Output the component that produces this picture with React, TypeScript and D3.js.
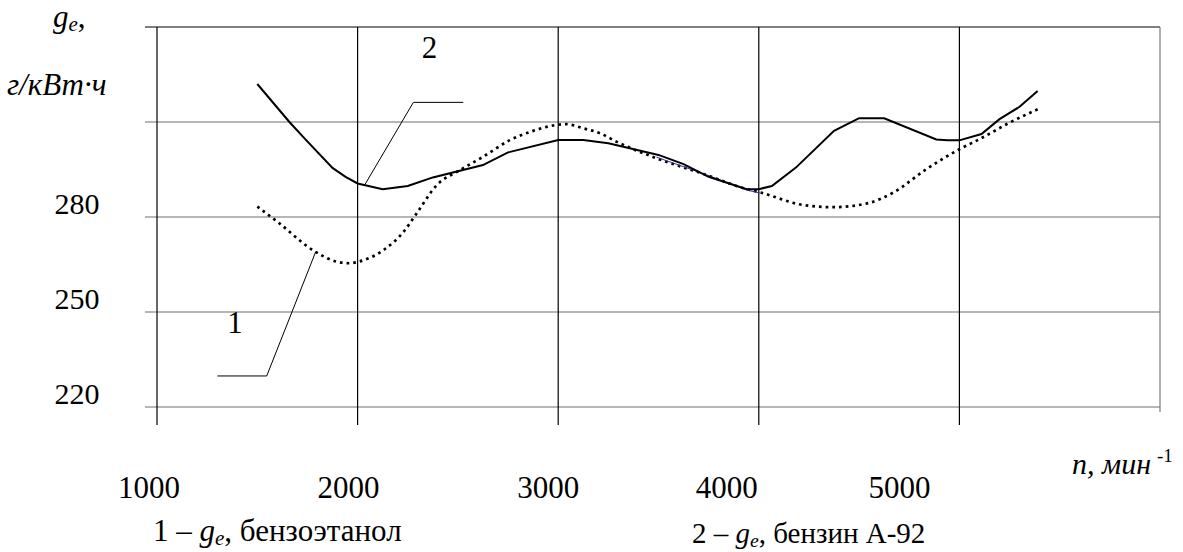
import React from 'react';
import * as d3 from 'd3';

// частота вращения, мин^-1 / удельный расход g_e, г/кВт·ч
const petrolRpm = [1500, 1660, 1740, 1875, 1940, 2000, 2125, 2250, 2375, 2625, 2750, 3000, 3125, 3250, 3500, 3625, 3750, 3940, 4000, 4065, 4185, 4375, 4500, 4625, 4885, 4940, 5000, 5110, 5200, 5300, 5390];
const petrolGe = [322, 310, 304.5, 295.5, 292.7, 290.6, 288.8, 289.8, 292.5, 296.4, 300.4, 304.3, 304.3, 303.3, 299.6, 296.7, 292.7, 288.8, 288.8, 289.8, 295.6, 307.2, 311.2, 311.2, 304.5, 304.2, 304.2, 306.2, 310.9, 314.8, 319.8];

const ethanolRpm = [1500, 1600, 1790, 1895, 1960, 2005, 2130, 2230, 2295, 2395, 2510, 2625, 2760, 2875, 2995, 3040, 3125, 3210, 3290, 3475, 3725, 3940, 4005, 4220, 4370, 4540, 4670, 4835, 5000, 5110, 5250, 5390];
const ethanolGe = [283.3, 278.5, 269, 265.9, 265.4, 265.9, 269.6, 275.4, 281.2, 290.1, 294.8, 299, 304.3, 307.2, 309.1, 309.3, 308, 306.4, 303.8, 298.9, 293.6, 288.8, 287.8, 283.8, 283.1, 284.3, 287.7, 295.1, 301.4, 304.9, 309.8, 314];

// тонкий синий отрезок поверх кривой 1
const blueRpm = [3490, 3740, 3940, 4005];
const blueGe = [298.9, 293.3, 288.5, 287.6];

const xTicks = [1000, 2000, 3000, 4000, 5000, 6000];
const xLabels = ['1000', '2000', '3000', '4000', '5000'];
const yTicks = [220, 250, 280, 310, 340];
const yLabels = ['220', '250', '280'];

// выноски: точка на кривой -> излом -> конец полки
const leader1 = [[1791, 269], [1547, 229.8], [1301, 229.8]];
const leader2 = [[2037, 290.3], [2278, 316.2], [2527, 316.2]];

const W = 1183;
const H = 552;
const FONT = '"Liberation Serif", "Times New Roman", serif';

const x = d3.scaleLinear().domain([1000, 6000]).range([157, 1160]);
const y = d3.scaleLinear().domain([220, 340]).range([407, 27]);

const xLabelShift = [-8, -9, -10, -32, -60];

const solid = d3.line<[number, number]>().x(d => x(d[0])).y(d => y(d[1]));
const smooth = d3.line<[number, number]>().x(d => x(d[0])).y(d => y(d[1])).curve(d3.curveMonotoneX);
const straight = d3.line<number[]>().x(d => x(d[0])).y(d => y(d[1]));

const zip = (a: number[], b: number[]) => a.map((v, i) => [v, b[i]] as [number, number]);

const Ge = ({ size }: { size: number }) => (
  <>
    <tspan fontStyle="italic">g</tspan>
    <tspan fontStyle="italic" fontSize={size * 0.68} dy={4}>e</tspan>
    <tspan dy={-4}>,</tspan>
  </>
);

export default function App() {
  return (
    <svg width={W} height={H} style={{ position: 'absolute', left: 0, top: 0, background: '#fff' }} fontFamily={FONT}>
      {/* горизонтальные линии сетки */}
      {yTicks.map(t => (
        <line key={'h' + t} x1={145} x2={x(6000)} y1={y(t)} y2={y(t)}
          stroke={t === 340 ? '#000' : '#6e6e6e'} strokeWidth={1.2} />
      ))}
      {/* вертикальные линии сетки */}
      {xTicks.map(t => (
        <line key={'v' + t} x1={x(t)} x2={x(t)} y1={y(340)} y2={t === 6000 ? 412 : 425}
          stroke={t === 6000 ? '#7a7a7a' : '#000'} strokeWidth={1.2} />
      ))}

      {/* кривые */}
      <path d={smooth(zip(ethanolRpm, ethanolGe)) || ''} fill="none" stroke="#000"
        strokeWidth={2.7} strokeDasharray="2.7 4" />
      <path d={solid(zip(blueRpm, blueGe)) || ''} fill="none" stroke="#3030a0" strokeWidth={1} />
      <path d={solid(zip(petrolRpm, petrolGe)) || ''} fill="none" stroke="#000" strokeWidth={2} />

      {/* выноски */}
      <path d={straight(leader1) || ''} fill="none" stroke="#000" strokeWidth={1} />
      <path d={straight(leader2) || ''} fill="none" stroke="#000" strokeWidth={1} />
      <text x={x(1389)} y={y(243.4)} textAnchor="middle" fontSize={31}>1</text>
      <text x={x(2358)} y={y(330.2)} textAnchor="middle" fontSize={31}>2</text>

      {/* подписи оси Y */}
      {yLabels.map(l => (
        <text key={l} x={77} y={y(+l) - 3} textAnchor="middle" fontSize={30}>{l}</text>
      ))}
      <text x={53} y={27} fontSize={31}><Ge size={31} /></text>
      <text x={7} y={95} fontSize={31} fontStyle="italic">г/кВт·ч</text>

      {/* подписи оси X */}
      {xLabels.map((l, i) => (
        <text key={l} x={x(+l) + xLabelShift[i]} y={498} textAnchor="middle" fontSize={31}>{l}</text>
      ))}
      <text x={1072} y={474} fontSize={30} fontStyle="italic">
        n, мин<tspan fontStyle="normal" fontSize={19} dx={6} dy={-12}>-1</tspan>
      </text>

      {/* легенда */}
      <text x={153} y={541} fontSize={31}>1 – <Ge size={31} /> бензоэтанол</text>
      <text x={692} y={543} fontSize={29}>2 – <Ge size={29} /> бензин А-92</text>
    </svg>
  );
}
